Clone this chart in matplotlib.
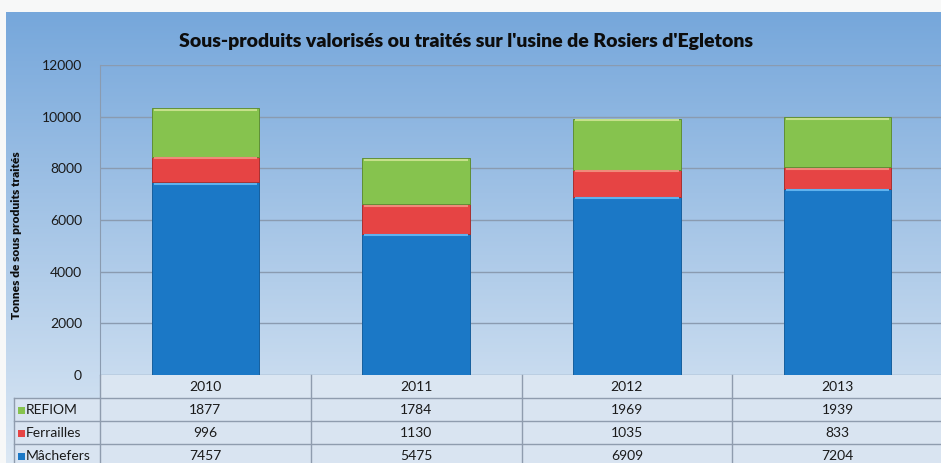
import numpy as np
import matplotlib.pyplot as plt
from matplotlib.transforms import blended_transform_factory
from matplotlib.lines import Line2D
from matplotlib.patches import Rectangle

plt.rcParams['font.family'] = ['Lato', 'DejaVu Sans']

years = ['2010', '2011', '2012', '2013']
machefers = [7457, 5475, 6909, 7204]
ferrailles = [996, 1130, 1035, 833]
refiom = [1877, 1784, 1969, 1939]

c_blue = '#1b78c6'
c_red = '#e64444'
c_green = '#86c34e'

W, H = 941, 463
fig = plt.figure(figsize=(W / 100, H / 100), dpi=100)
fig.patch.set_facecolor('#f7f8f8')

def fx(x):
    return x / W

def fy(y):
    return 1 - y / H

# fond bleu en degrade
bg = fig.add_axes([fx(6), 0, fx(941) - fx(6), fy(12)], zorder=-5)
top = np.array([118, 167, 219]) / 255.
bot = np.array([220, 232, 244]) / 255.
t = np.linspace(0, 1, 256)[:, None]
grad = top[None, :] * (1 - t) + bot[None, :] * t
bg.imshow(grad[:, None, :], aspect='auto', extent=[0, 1, 0, 1])
bg.axis('off')

ax = fig.add_axes([fx(100), fy(375), fx(943) - fx(100), fy(65) - fy(375)])
ax.set_facecolor('none')
x = np.arange(len(years))
w = 0.51
b1 = np.array(machefers)
b2 = b1 + np.array(ferrailles)
ax.bar(x, machefers, w, color=c_blue, edgecolor='#165f9e', lw=0.7, zorder=3)
ax.bar(x, ferrailles, w, bottom=b1, color=c_red, edgecolor='#a83030', lw=0.7, zorder=3)
ax.bar(x, refiom, w, bottom=b2, color=c_green, edgecolor='#5f8f35', lw=0.7, zorder=3)
# petits reflets en haut des segments
for h, hc in [(b1, '#5fb2ee'), (b2, '#f08a7a'), (b2 + np.array(refiom), '#c6e08a')]:
    ax.hlines(h - 60, x - w / 2 + 0.01, x + w / 2 - 0.01, colors=hc, lw=1.5, zorder=4)

ax.set_xlim(-0.5, 3.5)
ax.set_ylim(0, 12000)
ax.set_yticks(range(0, 12001, 2000))
ax.set_xticks([])
ax.yaxis.grid(True, color='#8a9bb0', lw=1.0)
ax.set_axisbelow(True)
for s in ['top', 'right', 'bottom']:
    ax.spines[s].set_visible(False)
ax.spines['left'].set_color('#8a9bb0')
ax.tick_params(axis='y', length=0, pad=13, labelsize=10, labelcolor='#1a1a1a')

fig.text(fx(466), fy(42), "Sous-produits valorisés ou traités sur l'usine de Rosiers d'Egletons",
         ha='center', va='center', fontsize=14, fontweight='heavy', color='#0d0d0d')
fig.text(fx(17), fy(235), 'Tonnes de sous produits traités', rotation=90,
         ha='center', va='center', fontsize=8.6, fontweight='heavy', color='#0d0d0d')

# tableau de donnees
tr = blended_transform_factory(ax.transData, fig.transFigure)
fig.patches.append(Rectangle((fx(100), fy(398)), fx(943) - fx(100), fy(375) - fy(398),
                             transform=fig.transFigure, facecolor='#dbe6f2', edgecolor='none', zorder=-1))
fig.patches.append(Rectangle((fx(14), 0), fx(943) - fx(14), fy(398),
                             transform=fig.transFigure, facecolor='#d9e4f1', edgecolor='none', zorder=-1))
lc = '#8f9cae'
for yy in [398, 421, 444]:
    fig.add_artist(Line2D([fx(14), 1], [fy(yy), fy(yy)], color=lc, lw=1))
fig.add_artist(Line2D([fx(14), fx(14)], [0, fy(398)], color=lc, lw=1))
fig.add_artist(Line2D([fx(100), fx(100)], [0, fy(375)], color=lc, lw=1))
for xb in [0.5, 1.5, 2.5]:
    fig.add_artist(Line2D([xb, xb], [0, fy(375)], color=lc, lw=1, transform=tr))

rows = [('REFIOM', refiom, c_green, 410), ('Ferrailles', ferrailles, c_red, 433),
        ('Mâchefers', machefers, c_blue, 456)]
for i, yr in enumerate(years):
    fig.text(i, fy(387), yr, transform=tr, ha='center', va='center', fontsize=10, color='#1a1a1a')
for name, vals, col, yy in rows:
    fig.patches.append(Rectangle((fx(18), fy(yy) - 3.5 / H), 7 / W, 7 / H,
                                 transform=fig.transFigure, facecolor=col, edgecolor='none'))
    fig.text(fx(26), fy(yy), name, ha='left', va='center', fontsize=10, color='#1a1a1a')
    for i, v in enumerate(vals):
        fig.text(i, fy(yy), str(v), transform=tr, ha='center', va='center', fontsize=10, color='#1a1a1a')

fig.savefig('out.png', dpi=100)
